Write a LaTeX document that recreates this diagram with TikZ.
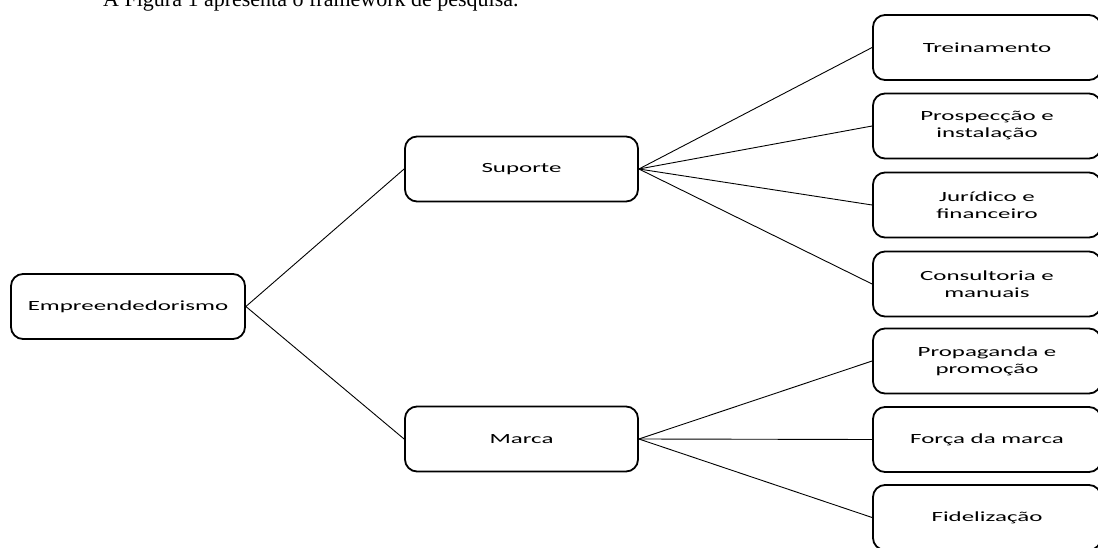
\documentclass[tikz,border=0pt]{standalone}
\usepackage{fontspec}
\setmainfont{Carlito}[FakeStretch=1.78]
\newfontfamily\topfont{Liberation Serif}
\begin{document}
\begin{tikzpicture}[x=1pt,y=-1pt,
  box/.style={draw=black, line width=1.8pt, rounded corners=12pt, minimum width=233pt,
    minimum height=65pt, align=center, inner sep=0pt, text=black,
    font=\fontsize{14pt}{17pt}\selectfont},
  rbox/.style={box, minimum width=228pt},
  link/.style={line width=0.9pt, draw=black}]
\useasboundingbox (0,0) rectangle (1098,548);
\clip (0,0) rectangle (1098,548);
\node[anchor=base west, inner sep=0pt, font=\topfont\fontsize{22pt}{26pt}\selectfont] (title) at (103,7) {A Figura 1 apresenta o framework de pesquisa.};
\node[box, minimum width=234pt] (emp) at (128,306.5) {Empreendedorismo};
\node[box] (sup) at (521.5,169) {Suporte};
\node[box] (mar) at (521.5,439) {Marca};
\node[rbox] (t1) at (987,47.5) {Treinamento};
\node[rbox] (t2) at (987,126) {Prospecção e\\instalação};
\node[rbox] (t3) at (987,205) {Jurídico e\\financeiro};
\node[rbox] (t4) at (987,284) {Consultoria e\\manuais};
\node[rbox] (t5) at (987,361) {Propaganda e\\promoção};
\node[rbox] (t6) at (987,439.5) {Força da marca};
\node[rbox] (t7) at (987,517.5) {Fidelização};
\draw[link] (emp.east) -- (sup.west);
\draw[link] (emp.east) -- (mar.west);
\foreach \n in {t1,t2,t3,t4} \draw[link] (sup.east) -- (\n.west);
\foreach \n in {t5,t6,t7} \draw[link] (mar.east) -- (\n.west);
\end{tikzpicture}
\end{document}
